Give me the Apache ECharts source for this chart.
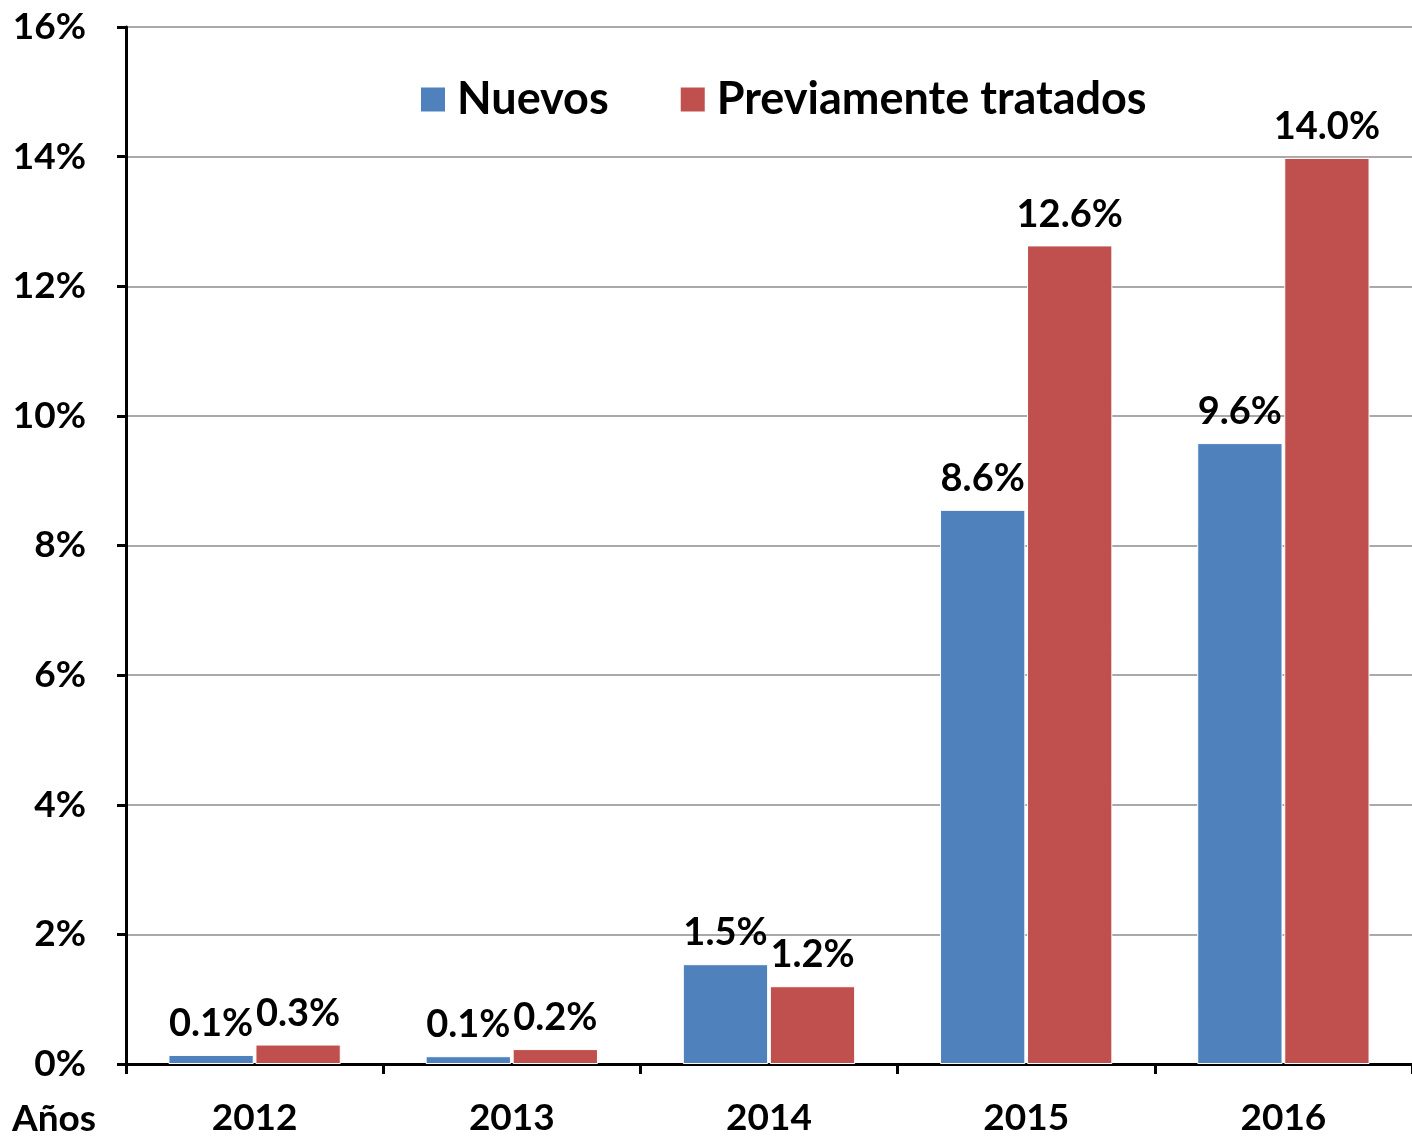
<!DOCTYPE html>
<html><head><meta charset="utf-8">
<script src="https://cdn.jsdelivr.net/npm/echarts@6/dist/echarts.min.js"></script>
<style>html,body{margin:0;padding:0;background:#fff}#c{width:1412px;height:1137px}</style>
</head><body><div id="c"></div>
<script>
const categories = ['2012','2013','2014','2015','2016'];
const nuevos = [0.14, 0.12, 1.54, 8.55, 9.58];
const previos = [0.30, 0.23, 1.20, 12.63, 13.98];
const seriesNames = ['Nuevos','Previamente tratados'];
const FONT = 'Lato';
const chart = echarts.init(document.getElementById('c'));
const lbl = {show:true, position:'top', distance:12, color:'#000', fontFamily:FONT, fontWeight:'bold', fontSize:38,
  formatter: p => p.value.toFixed(1) + '%'};
chart.setOption({
  animation:false,
  textStyle:{fontFamily:FONT},
  grid:{left:126, right:0, top:27, bottom:71, containLabel:false},
  legend:{top:72, left:414, itemWidth:26, itemHeight:26, itemGap:70, icon:'rect',
    textStyle:{fontFamily:FONT, fontWeight:'bold', fontSize:45, color:'#000', padding:[0,0,0,6]},
    data:seriesNames},
  graphic:[{type:'text', left:12, top:1101, style:{text:'Años', fontFamily:FONT, fontWeight:'bold', fontSize:37, fill:'#000'}}],
  xAxis:{type:'category', data:categories,
    axisLine:{lineStyle:{color:'#000', width:3}},
    axisTick:{show:true, length:10, lineStyle:{color:'#000', width:3}, alignWithLabel:false},
    axisLabel:{color:'#000', fontFamily:FONT, fontWeight:'bold', fontSize:37, margin:36}},
  yAxis:{type:'value', min:0, max:16, interval:2,
    axisLine:{show:true, lineStyle:{color:'#000', width:3}},
    axisTick:{show:true, length:9, lineStyle:{color:'#000', width:3}},
    splitLine:{lineStyle:{color:'#8c8c8c', width:1.5}},
    axisLabel:{color:'#000', fontFamily:FONT, fontWeight:'bold', fontSize:37, margin:40, formatter: v => v + '%'}},
  series:[
    {name:seriesNames[0], type:'bar', data:nuevos, barGap:'2%', barCategoryGap:'33%',
     itemStyle:{color:'#4F81BD', borderColor:'#fff', borderWidth:1}, label:lbl},
    {name:seriesNames[1], type:'bar', data:previos,
     itemStyle:{color:'#C0504D', borderColor:'#fff', borderWidth:1}, label:lbl}
  ]
});
</script></body></html>
